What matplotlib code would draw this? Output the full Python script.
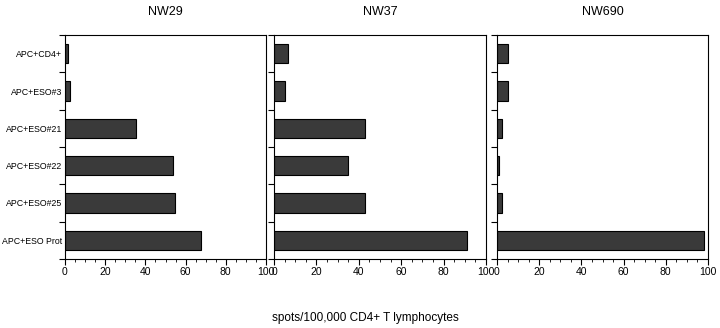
import numpy as np
import matplotlib
matplotlib.use('Agg')
import matplotlib.pyplot as plt
from matplotlib.ticker import MultipleLocator, FixedLocator

plt.rcParams['font.family'] = ['Liberation Sans', 'DejaVu Sans']

# data
categories = ['APC+CD4+', 'APC+ESO#3', 'APC+ESO#21', 'APC+ESO#22', 'APC+ESO#25', 'APC+ESO Prot']
panels = ['NW29', 'NW37', 'NW690']
nw29 = [1.5, 2.3, 35.5, 53.5, 54.5, 67.5]
nw37 = [6.5, 5.4, 43, 35, 43, 91]
nw690 = [5.2, 5.2, 2.2, 1.1, 2.2, 98]
xlabel = 'spots/100,000 CD4+ T lymphocytes'

values = [nw29, nw37, nw690]

fig = plt.figure(figsize=(7.2, 3.28), dpi=100)
boxes = [(65, 201), (274, 212), (497, 211)]
bottom, height = 1 - 259 / 328, (259 - 35) / 328

ypos = np.arange(len(categories))[::-1]
for i, (title, vals) in enumerate(zip(panels, values)):
    x0, w = boxes[i]
    ax = fig.add_axes([x0 / 720, bottom, w / 720, height])
    ax.barh(ypos, vals, height=0.52, color='#3a3a3a', edgecolor='black', linewidth=0.8)
    ax.set_xlim(0, 100)
    ax.set_ylim(-0.5, 5.5)
    ax.xaxis.set_major_locator(MultipleLocator(20))
    ax.xaxis.set_minor_locator(MultipleLocator(5))
    ax.tick_params(axis='x', which='major', length=4, width=0.8, labelsize=7.5, pad=2)
    ax.tick_params(axis='x', which='minor', length=2, width=0.6)
    # labels at bar centres, tick marks between bars
    ax.set_yticks(ypos)
    ax.yaxis.set_minor_locator(FixedLocator(np.arange(-0.5, 6.0, 1.0)))
    ax.tick_params(axis='y', which='major', length=0, pad=2)
    ax.tick_params(axis='y', which='minor', length=4, width=0.8)
    if i == 0:
        ax.set_yticklabels(categories, fontsize=6.3)
    else:
        ax.set_yticklabels([])
    for s in ax.spines.values():
        s.set_linewidth(0.8)
    fig.text((x0 + w / 2) / 720, 1 - 12 / 328, title, ha='center', va='center', fontsize=9)

fig.text(365 / 720, 1 - 318 / 328, xlabel, ha='center', va='center', fontsize=8.5)

fig.savefig('out.png', dpi=100)
